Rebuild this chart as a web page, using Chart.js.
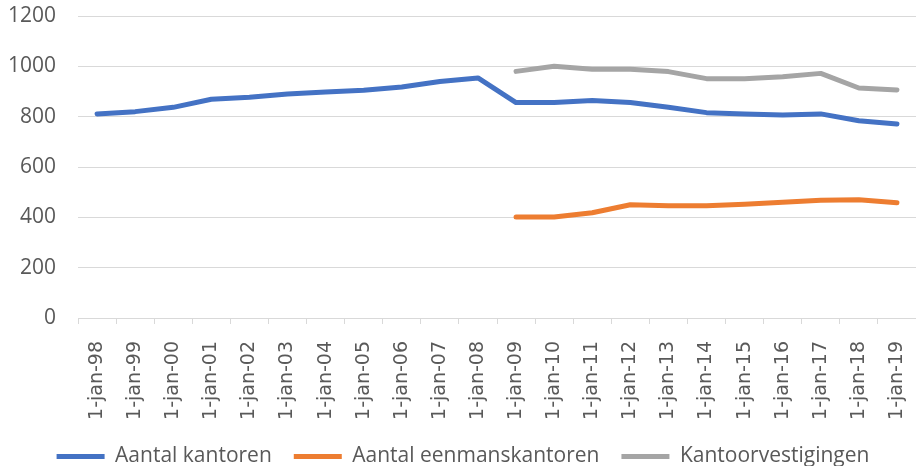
<!DOCTYPE html>
<html>
<head>
<meta charset="utf-8">
<script src="https://cdn.jsdelivr.net/npm/chart.js@4"></script>
<style>
  html, body { margin: 0; padding: 0; background: #fff; }
  #wrap { width: 916px; height: 466px; }
</style>
</head>
<body>
<div id="wrap"><canvas id="chart" width="916" height="466"></canvas></div>
<script>
// categorieën
const labels = ['1-jan-98', '1-jan-99', '1-jan-00', '1-jan-01', '1-jan-02', '1-jan-03', '1-jan-04',
  '1-jan-05', '1-jan-06', '1-jan-07', '1-jan-08', '1-jan-09', '1-jan-10', '1-jan-11', '1-jan-12',
  '1-jan-13', '1-jan-14', '1-jan-15', '1-jan-16', '1-jan-17', '1-jan-18', '1-jan-19'];

// reeksen
const kantoren = [811, 820, 837, 869, 877, 890, 898, 905, 918, 940, 954,
  856, 856, 864, 856, 837, 816, 811, 807, 811, 784, 771];
const eenmanskantoren = [null, null, null, null, null, null, null, null, null, null, null,
  401, 401, 418, 450, 446, 446, 452, 460, 468, 470, 458];
const vestigingen = [null, null, null, null, null, null, null, null, null, null, null,
  980, 1000, 988, 988, 979, 951, 951, 959, 972, 914, 906];

const yTicks = [0, 200, 400, 600, 800, 1000, 1200];

const ctx = document.getElementById('chart').getContext('2d');

function serie(label, data, kleur) {
  return {
    label: label,
    data: data,
    borderColor: kleur,
    backgroundColor: kleur,
    borderWidth: 5,
    pointRadius: 0,
    tension: 0,
    borderCapStyle: 'round',
    borderJoinStyle: 'round',
    fill: false
  };
}

new Chart(ctx, {
  type: 'line',
  data: {
    labels: labels,
    datasets: [
      serie('Aantal kantoren', kantoren, '#4472C4'),
      serie('Aantal eenmanskantoren', eenmanskantoren, '#ED7D31'),
      serie('Kantoorvestigingen', vestigingen, '#A5A5A5')
    ]
  },
  options: {
    responsive: false,
    animation: false,
    layout: { padding: { top: 16, left: 8, right: -2, bottom: 0 } },
    plugins: {
      tooltip: { enabled: false },
      legend: {
        position: 'bottom',
        maxHeight: 42,
        labels: {
          boxWidth: 48,
          boxHeight: 5,
          padding: 22,
          color: '#595959',
          font: { family: 'Open Sans', size: 21 },
          generateLabels: (chart) => chart.data.datasets.map((ds, i) => ({
            text: ds.label,
            fillStyle: ds.borderColor,
            strokeStyle: ds.borderColor,
            lineWidth: 0,
            datasetIndex: i,
            fontColor: '#595959'
          }))
        }
      }
    },
    scales: {
      x: {
        offset: true,
        afterFit: (scale) => { scale.paddingRight = 0; scale.paddingLeft = 0; scale.height = 106; },
        grid: {
          offset: true,
          drawOnChartArea: false,
          color: '#D9D9D9',
          tickLength: 6
        },
        border: { color: '#D9D9D9' },
        ticks: {
          minRotation: 90,
          maxRotation: 90,
          autoSkip: false,
          padding: 17,
          color: '#595959',
          font: { family: 'DejaVu Sans', size: 19 }
        }
      },
      y: {
        min: 0,
        max: 1200,
        afterBuildTicks: (axis) => { axis.ticks = yTicks.map(v => ({ value: v })); },
        grid: { color: '#D9D9D9', drawTicks: true, tickLength: 22, tickColor: 'rgba(0,0,0,0)' },
        border: { display: false },
        ticks: {
          padding: 0,
          color: '#595959',
          font: { family: 'Open Sans', size: 21 },
          callback: (v) => String(v)
        }
      }
    }
  }
});
</script>
</body>
</html>
